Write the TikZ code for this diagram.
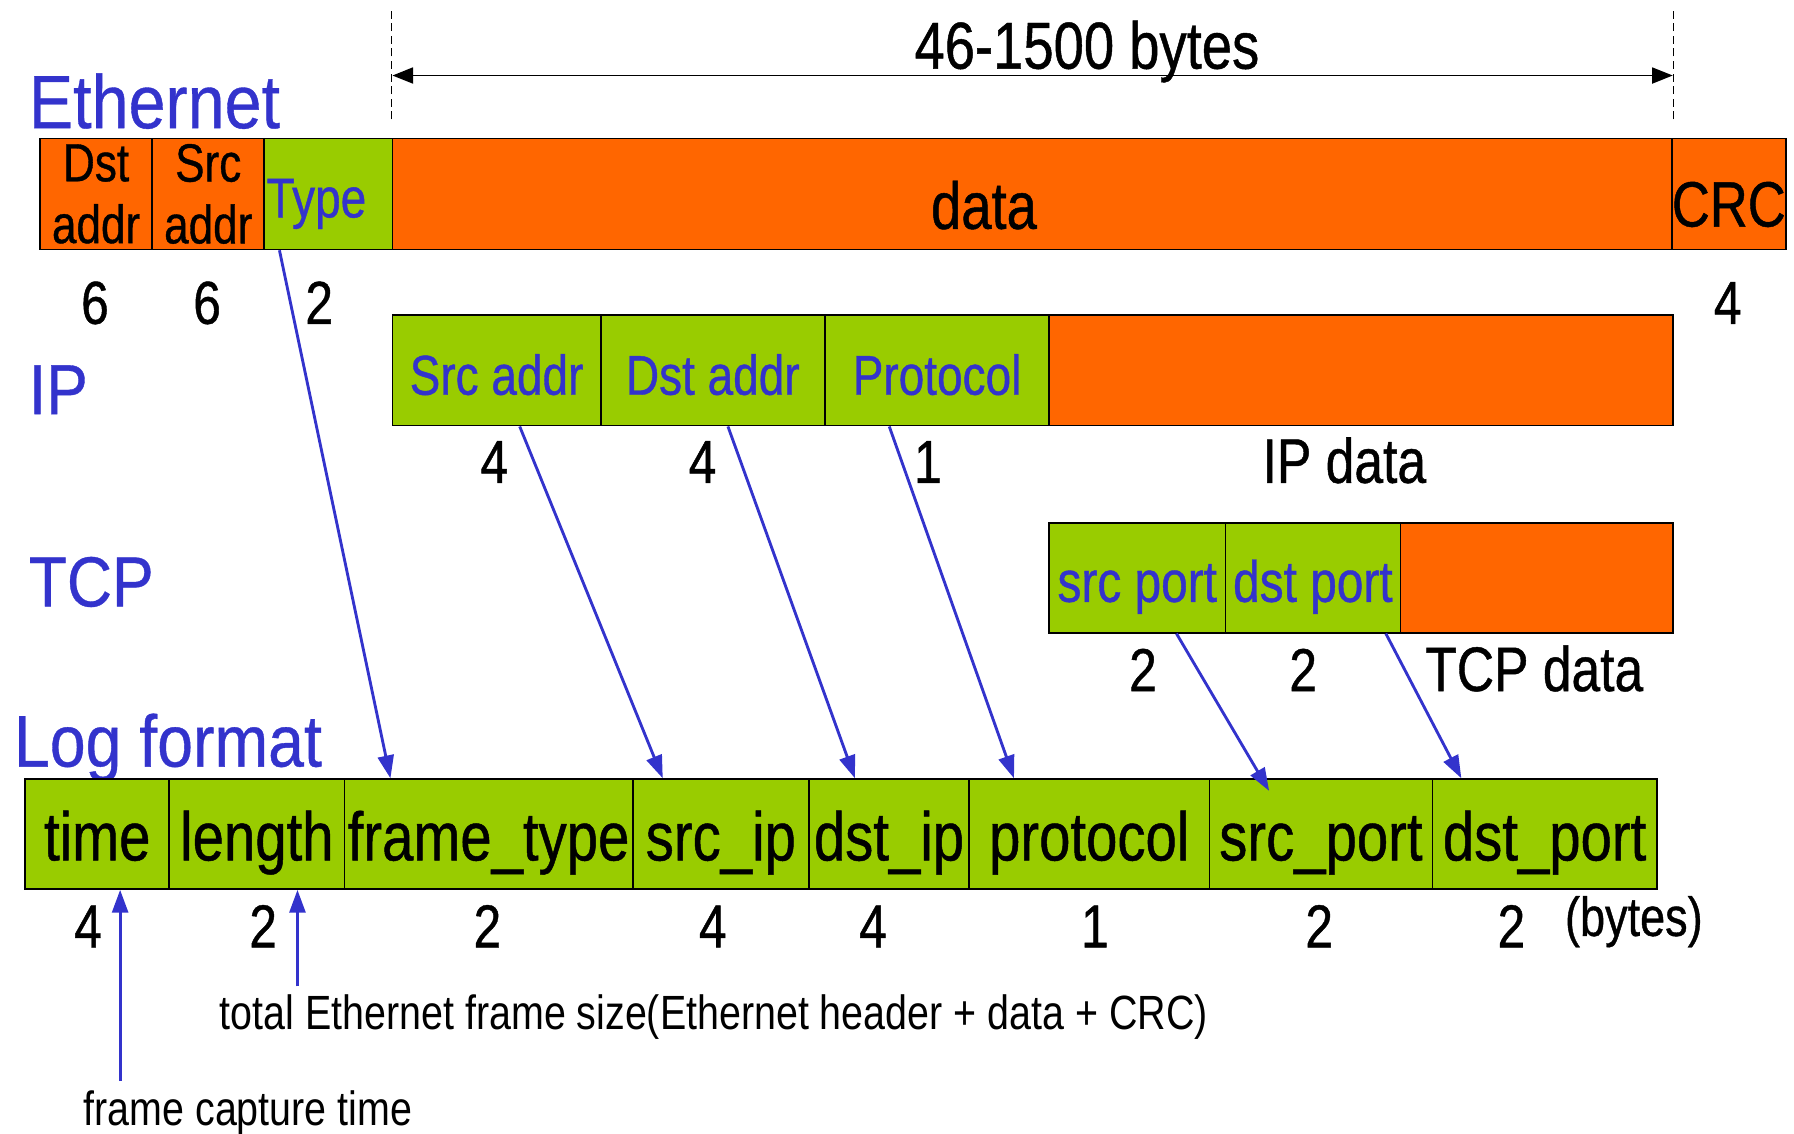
\documentclass[tikz,border=0pt]{standalone}
\usepackage{fontspec}
\setmainfont{Liberation Sans}[FakeStretch=0.82,FakeBold=0.7]
\newfontfamily\headfont{Liberation Sans}[FakeStretch=0.88,FakeBold=0.5]
\newfontfamily\notefont{Liberation Sans}[FakeStretch=0.82]
\usepackage{xcolor}
\usepackage{tikz}
\usetikzlibrary{arrows.meta}

\definecolor{pkorange}{RGB}{255,102,0}
\definecolor{pkgreen}{RGB}{153,204,0}
\definecolor{pkblue}{RGB}{51,51,204}

\tikzset{
  fld/.style={draw=black, line width=1.5pt, minimum height=97pt, inner sep=0pt},
  hdr/.style={fld, fill=pkgreen},
  pay/.style={fld, fill=pkorange},
  layer/.style={text=pkblue, anchor=base west, inner sep=0pt, font=\headfont\fontsize{64}{70}\selectfont},
  num/.style={anchor=base, inner sep=0pt, font=\fontsize{53}{60}\selectfont},
  note/.style={anchor=base west, inner sep=0pt, font=\notefont\fontsize{42}{48}\selectfont},
  iplbl/.style={text=pkblue, font=\fontsize{49}{55}\selectfont, text height=43pt, text depth=0pt},
  tcplbl/.style={text=pkblue, font=\fontsize{51}{56}\selectfont, text height=42pt, text depth=0pt},
  loglbl/.style={font=\fontsize{60}{66}\selectfont, text height=46pt, text depth=0pt},
  link/.style={pkblue, line width=2.5pt, -{Triangle[length=20pt,width=14pt]}},
}

\begin{document}
\begin{tikzpicture}[x=1pt, y=-1pt]
  \useasboundingbox (0,0) rectangle (1568,991);

  % Ethernet frame
  \node[layer, font=\headfont\fontsize{66}{70}\selectfont] (leth) at (25,112) {Ethernet};
  \node[pay, minimum width=98pt, align=center, font=\fontsize{47}{54}\selectfont]
    (edst) at (84,169.5) {Dst\\addr};
  \node[pay, minimum width=98pt, align=center, font=\fontsize{47}{54}\selectfont]
    (esrc) at (182,169.5) {Src\\addr};
  \node[hdr, minimum width=112pt, text width=108pt, align=left, text=pkblue,
    font=\fontsize{49}{55}\selectfont, text height=41pt, text depth=0pt]
    (etype) at (287,169.5) {Type};
  \node[pay, minimum width=1119pt] (edata) at (902.5,169.5) {};
  \node[pay, minimum width=98pt, font=\fontsize{56}{60}\selectfont,
    text height=57pt, text depth=0pt] (ecrc) at (1511,169.5) {CRC};
  \node[anchor=base, inner sep=0pt, font=\fontsize{58}{62}\selectfont]
    (edatatxt) at (860,200) {data};
  \node[num] at (83,283) {6};
  \node[num] at (181,283) {6};
  \node[num] at (279,283) {2};
  \node[num] at (1510,283) {4};

  % 46-1500 bytes
  \draw[dashed, dash pattern=on 7pt off 4pt, line width=1.3pt]
    ([yshift=16pt]edata.north west) -- ++(0,-97)
    ([yshift=16pt]edata.north east) -- ++(0,-97)
  ;
  \coordinate (wl) at (343,66);
  \coordinate (wr) at (1462,66);
  \draw[{Triangle[length=18pt,width=14pt]}-{Triangle[length=18pt,width=14pt]}, line width=1.5pt]
    (wl) -- (wr);
  \node[anchor=base, inner sep=0pt, font=\fontsize{58}{62}\selectfont]
    (wlen) at (950,60) {46-1500 bytes};

  % IP
  \node[layer, font=\headfont\fontsize{62}{70}\selectfont] (lip) at (25,362) {IP};
  \node[hdr, iplbl, minimum width=182pt] (isrc) at (434,323.5) {Src addr};
  \node[hdr, iplbl, minimum width=196pt] (idst) at (623,323.5) {Dst addr};
  \node[hdr, iplbl, minimum width=196pt] (iproto) at (819,323.5) {Protocol};
  \node[pay, minimum width=545pt] (idata) at (1189.5,323.5) {};
  \node[num] at (432,422) {4};
  \node[num] at (614,422) {4};
  \node[num] at (811,422) {1};
  \node[num, font=\fontsize{55}{60}\selectfont] at (1175,422) {IP data};

  % TCP
  \node[layer, font=\headfont\fontsize{62}{70}\selectfont] (ltcp) at (25,530) {TCP};
  \node[hdr, tcplbl, minimum width=154pt, minimum height=96pt] (tsrc) at (994,505) {src port};
  \node[hdr, tcplbl, minimum width=153pt, minimum height=96pt] (tdst) at (1147.5,505) {dst port};
  \node[pay, minimum width=238pt, minimum height=96pt] (tdata) at (1343,505) {};
  \node[num] at (999,604) {2};
  \node[num] at (1139,604) {2};
  \node[num, font=\fontsize{55}{60}\selectfont] at (1341,604) {TCP data};

  % log record
  \node[layer, font=\headfont\fontsize{64}{70}\selectfont] (llog) at (12,670) {Log format};
  \node[hdr, loglbl, minimum width=126pt, minimum height=96pt] (ltime) at (85,729) {time};
  \node[hdr, loglbl, minimum width=153pt, minimum height=96pt] (llen) at (224.5,729) {length};
  \node[hdr, loglbl, minimum width=252pt, minimum height=96pt] (lftype) at (427,729) {frame\_type};
  \node[hdr, loglbl, minimum width=154pt, minimum height=96pt] (lsip) at (630,729) {src\_ip};
  \node[hdr, loglbl, minimum width=140pt, minimum height=96pt] (ldip) at (777,729) {dst\_ip};
  \node[hdr, loglbl, minimum width=210pt, minimum height=96pt] (lproto) at (952,729) {protocol};
  \node[hdr, loglbl, minimum width=195pt, minimum height=96pt] (lsport) at (1154.5,729) {src\_port};
  \node[hdr, loglbl, minimum width=196pt, minimum height=96pt] (ldport) at (1350,729) {dst\_port};
  \node[num] at (77,828) {4};
  \node[num] at (230,828) {2};
  \node[num] at (426,828) {2};
  \node[num] at (623,828) {4};
  \node[num] at (763,828) {4};
  \node[num] at (957,828) {1};
  \node[num] at (1153,828) {2};
  \node[num] at (1321,828) {2};
  \node[anchor=base, inner sep=0pt, font=\fontsize{48}{54}\selectfont] (lunit) at (1428,818) {(bytes)};

  \node[note] (nlen) at (192,900) {total Ethernet frame size(Ethernet header + data + CRC)};
  \node[note] (ntime) at (73,984) {frame capture time};
  \coordinate (clen) at (260,862);
  \coordinate (ctime) at (105,945);

  % field mapping
  \draw[link] ([xshift=14pt]etype.south west) -- ([xshift=41pt]lftype.north west);
  \draw[link] ([xshift=112pt]isrc.south west) -- ([xshift=27pt]lsip.north west);
  \draw[link] ([xshift=112pt]idst.south west) -- ([xshift=41pt]ldip.north west);
  \draw[link] ([xshift=57pt]iproto.south west) -- ([xshift=40pt]lproto.north west);
  \draw[link] ([xshift=112pt]tsrc.south west) -- ([xshift=53pt,yshift=-11pt]lsport.north west);
  \draw[link] ([xshift=141pt]tdst.south west) -- ([xshift=26pt]ldport.north west);
  \draw[link] (ctime) -- (ltime.south -| ctime);
  \draw[link] (clen) -- (llen.south -| clen);
\end{tikzpicture}
\end{document}
